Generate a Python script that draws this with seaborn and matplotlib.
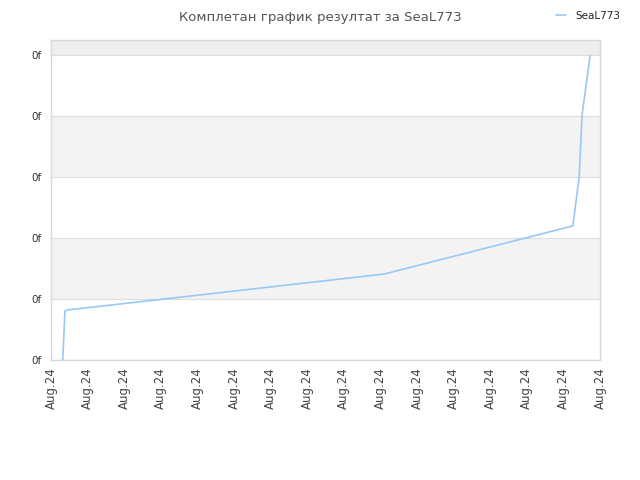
import matplotlib
matplotlib.use("Agg")
import matplotlib.pyplot as plt
import seaborn as sns
import pandas as pd

# values (x in tick steps, y in tick steps)
days = [0.32, 0.34, 0.38, 0.44, 9.10, 14.26, 14.43, 14.51, 14.73]
score = [0.0, 0.25, 0.80, 0.82, 1.41, 2.20, 3.00, 4.02, 5.00]
x_labels = ["Aug.24"] * 16
y_labels = ["0f"] * 6
player = "SeaL773"

data = pd.DataFrame({"day": days, "score": score, "player": player})

sns.set_style("white")
plt.rcParams['font.family'] = ['DejaVu Sans']

fig = plt.figure(figsize=(6.4, 4.8), dpi=100)
ax = fig.add_axes([51 / 640, 1 - 360 / 480, 549 / 640, 320 / 480])

# alternating bands
ax.axhspan(1, 2, color="#f3f3f3", zorder=0, lw=0)
ax.axhspan(3, 4, color="#f3f3f3", zorder=0, lw=0)
ax.axhspan(5, 5.25, color="#eeeeee", zorder=0, lw=0)
for yv in range(6):
    ax.axhline(yv, color="#dddddd", lw=0.8, zorder=0.5)

sns.lineplot(data=data, x="day", y="score", hue="player", palette=["#99c8f5"],
             sort=False, lw=1.2, ax=ax, zorder=3)

ax.set_xlim(0, 15)
ax.set_ylim(0, 5.25)
ax.set_xticks(range(16))
ax.set_xticklabels(x_labels, rotation=90, fontsize=8.5, color="#444444")
ax.set_yticks(range(6))
ax.set_yticklabels(y_labels, fontsize=7.5, color="#333333")
ax.tick_params(axis="x", length=0, pad=5)
ax.tick_params(axis="y", length=0, pad=7)
ax.set_xlabel("")
ax.set_ylabel("")
for s in ax.spines.values():
    s.set_color("#d8d8d8")
    s.set_linewidth(1)

ax.legend(loc="upper right", bbox_to_anchor=(1.045, 1.105), frameon=False,
          fontsize=7.5, handlelength=1.0, borderaxespad=0, handletextpad=0.9)

fig.text(0.5, 0.978, "Комплетан график резултат за SeaL773", ha="center",
         va="top", fontsize=9.5, color="#555555")

fig.savefig("out.png", dpi=100)
